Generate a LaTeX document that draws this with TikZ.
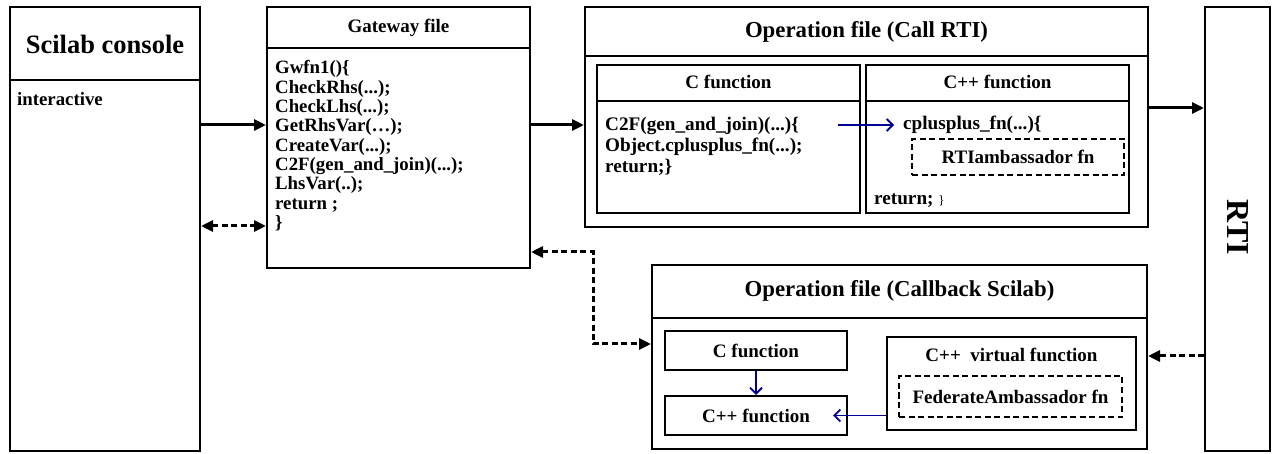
\documentclass[tikz,border=0pt]{standalone}
\usepackage{fontspec}
\setmainfont{Liberation Serif}
\usetikzlibrary{arrows.meta}
\definecolor{navyline}{RGB}{0,0,150}

\begin{document}
\begin{tikzpicture}[x=1pt, y=-1pt, line join=miter,
	box/.style={draw, line width=2pt, inner sep=0pt},
	dashbox/.style={draw, line width=2.6pt, dash pattern=on 6pt off 3.5pt, inner sep=0pt, med},
	big/.style={font=\fontsize{22.8}{26}\selectfont\bfseries},
	med/.style={font=\fontsize{19}{21}\selectfont\bfseries},
	code/.style={font=\fontsize{18.8}{19.3}\selectfont\bfseries, inner sep=0pt, align=left},
	link/.style={line width=3pt, -{Triangle[length=12pt,width=11pt]}},
	dashlink/.style={line width=3pt, dash pattern=on 6pt off 3.5pt, -{Triangle[length=12pt,width=11pt]}},
	dlink/.style={dashlink, {Triangle[length=12pt,width=11pt]}-{Triangle[length=12pt,width=11pt]}},
	blink/.style={draw=navyline, line width=1.8pt, -{Straight Barb[length=6pt,width=12pt]}}]
	\useasboundingbox (0,0) rectangle (1275,454);

	\node[box, minimum width=190pt, minimum height=444pt] (console) at (105,229) {};
	\node[font=\fontsize{26.5}{30}\selectfont\bfseries] (consoletitle) at (105,44) {Scilab console};
	\node[code, anchor=west] (interactive) at (17,99) {interactive};

	\node[box, minimum width=263pt, minimum height=261pt] (gateway) at (398.5,137.5) {};
	\node[med] (gatewaytitle) at (398.5,28) {Gateway file};
	\node[code, anchor=north west] (gatewaycode) at (275,60.5) {Gwfn1()\{\\CheckRhs(...);\\CheckLhs(...);\\GetRhsVar(…);\\CreateVar(...);\\C2F(gen\_and\_join)(...);\\LhsVar(..);\\return ;\\\}};

	\node[box, minimum width=563pt, minimum height=220pt] (opcall) at (866.5,117) {};
	\node[big] (opcalltitle) at (866.5,32) {Operation file (Call RTI)};
	\node[box, minimum width=263pt, minimum height=148pt] (cfun) at (728.5,139) {};
	\node[med] (cfuntitle) at (728.5,82) {C function};
	\node[code, anchor=north west, font=\fontsize{19.2}{21}\selectfont\bfseries] (ccode) at (605,116.5) {C2F(gen\_and\_join)(...)\{\\Object.cplusplus\_fn(...);\\return;\}};
	\node[box, minimum width=263pt, minimum height=148pt] (cppfun) at (997.5,139) {};
	\node[med] (cppfuntitle) at (997.5,82) {C++ function};
	\node[code, anchor=west, font=\fontsize{19.2}{21}\selectfont\bfseries] (cppcall) at (903,125) {cplusplus\_fn(...)\{};
	\node[dashbox, minimum width=212pt, minimum height=36pt] (rtiamb) at (1018,157) {RTIambassador fn};
	\node[code, anchor=west, font=\fontsize{19.2}{21}\selectfont\bfseries] (cppret) at (874,201) {return; {\mdseries\fontsize{13}{15}\selectfont\}}};

	\node[box, minimum width=65pt, minimum height=444pt] (rti) at (1237.5,229) {};
	\node[font=\fontsize{32}{36}\selectfont\bfseries, rotate=-90] (rtitext) at (1238,227) {RTI};

	\node[box, minimum width=495pt, minimum height=184pt] (opback) at (899.5,357) {};
	\node[big] (opbacktitle) at (899.5,291) {Operation file (Callback Scilab)};
	\node[box, med, minimum width=182pt, minimum height=39pt] (cfunb) at (756,350.5) {C function};
	\node[box, med, minimum width=182pt, minimum height=39pt] (cppfunb) at (756,415.5) {C++ function};
	\node[box, minimum width=249pt, minimum height=93pt] (virtual) at (1011.5,383.5) {};
	\node[med] (virtualtitle) at (1011.5,355) {C++~ virtual function};
	\node[dashbox, minimum width=223pt, minimum height=41pt] (fedamb) at (1010.5,396.5) {FederateAmbassador fn};

	\foreach \b/\y in {console/80, gateway/48, opcall/56, cfun/101, cppfun/101, opback/318}
		\draw[line width=2pt] (\b.west |- 0,\y) -- (\b.east |- 0,\y);

	\draw[link] (console.east |- 0,125) -- (gateway.west |- 0,125);
	\draw[dlink] (console.east |- 0,226) -- (gateway.west |- 0,226);
	\draw[link] (gateway.east |- 0,125) -- (opcall.west |- 0,125);
	\draw[link] (opcall.east |- 0,108) -- (rti.west |- 0,108);
	\draw[dlink] (gateway.east |- 0,252) -| (593,300) |- (opback.west |- 0,344);
	\draw[dashlink] (rti.west |- 0,356) -- (opback.east |- 0,356);
	\draw[blink] ([xshift=-65pt]cppcall.west) -- ([xshift=-9pt]cppcall.west);
	\draw[blink] (cfunb) -- (cppfunb);
	\draw[blink] (virtual.west |- cppfunb.east) -- ([xshift=-15pt]cppfunb.east);
\end{tikzpicture}
\end{document}
